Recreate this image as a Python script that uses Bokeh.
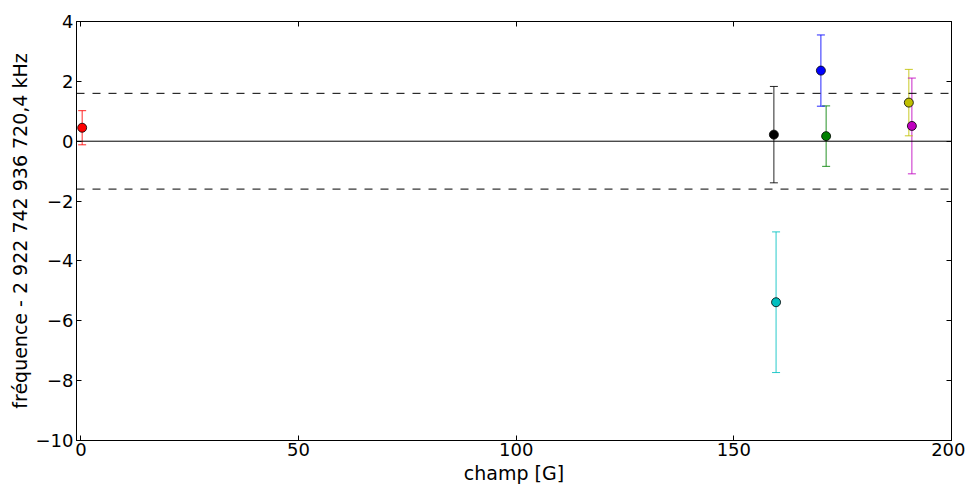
from bokeh.plotting import figure
from bokeh.models import ColumnDataSource, Range1d, LinearAxis, FixedTicker, Span, CustomLabelingPolicy
from bokeh.embed import file_html
from bokeh.resources import INLINE

# ---- data ----
champ = [0.3, 159.2, 159.7, 170.0, 171.2, 190.2, 190.9]
freq = [0.45, 0.22, -5.38, 2.36, 0.17, 1.29, 0.51]
err = [0.57, 1.61, 2.35, 1.19, 1.01, 1.11, 1.60]
colors = ["#ff0000", "#000000", "#00bfbf", "#0000ff", "#008000", "#bfbf00", "#bf00bf"]
seuil = 1.6
x_ticks = [0, 50, 100, 150, 200]
y_ticks = [-10, -8, -6, -4, -2, 0, 2, 4]
y_tick_labels = ["\u221210", "\u22128", "\u22126", "\u22124", "\u22122", "0", "2", "4"]
x_label = "champ [G]"
y_label = "fréquence - 2 922 742 936 720,4 kHz"

lower = [f - e for f, e in zip(freq, err)]
upper = [f + e for f, e in zip(freq, err)]
src = ColumnDataSource(dict(x=champ, y=freq, lo=lower, up=upper, c=colors))

FONT = "DejaVu Sans"

p = figure(width=965, height=488, x_range=Range1d(-1, 200), y_range=Range1d(-10, 4),
           output_backend="svg", toolbar_location=None,
           min_border_left=76, min_border_right=14, min_border_top=21, min_border_bottom=48)
p.xgrid.visible = False
p.ygrid.visible = False
p.outline_line_color = "black"
p.outline_line_alpha = 1.0
p.outline_line_width = 1
p.background_fill_color = "white"
p.border_fill_color = "white"

def style_axis(ax, ticks):
    ax.ticker = FixedTicker(ticks=ticks)
    ax.major_tick_in = 5
    ax.major_tick_out = 0
    ax.minor_tick_in = 0
    ax.minor_tick_out = 0
    ax.axis_line_color = "black"
    ax.major_tick_line_color = "black"
    ax.major_label_text_font = FONT
    ax.major_label_text_font_size = "18px"
    ax.major_label_text_color = "black"
    ax.axis_label_text_font = FONT
    ax.axis_label_text_font_size = "19px"
    ax.axis_label_text_font_style = "normal"
    ax.axis_label_text_color = "black"

xa = p.xaxis[0]
style_axis(xa, x_ticks)
xa.axis_label = x_label
xa.major_label_standoff = 2
xa.axis_label_standoff = 3

ya = p.yaxis[0]
style_axis(ya, y_ticks)
ya.axis_label = y_label
ya.major_label_overrides = dict(zip(y_ticks, y_tick_labels))
ya.major_label_standoff = 3
ya.axis_label_standoff = 2

no_labels = CustomLabelingPolicy(code="return new Set()")
for loc, ticks in (("right", y_ticks), ("above", x_ticks)):
    ax = LinearAxis()
    style_axis(ax, ticks)
    ax.major_label_text_font_size = "0px"
    ax.major_label_standoff = 0
    ax.major_label_policy = no_labels
    p.add_layout(ax, loc)

# reference lines
p.add_layout(Span(location=0, dimension="width", line_color="black", line_width=1))
p.add_layout(Span(location=seuil, dimension="width", line_color="black", line_width=1, line_dash="8 8"))
p.add_layout(Span(location=-seuil, dimension="width", line_color="black", line_width=1, line_dash="8 8"))

# error bars
p.segment(x0="x", y0="lo", x1="x", y1="up", line_color="c", line_width=1, line_alpha=0.85, source=src)
p.scatter(x="x", y="up", marker="dash", size=8, line_color="c", line_width=1, line_alpha=0.85, source=src)
p.scatter(x="x", y="lo", marker="dash", size=8, line_color="c", line_width=1, line_alpha=0.85, source=src)

# points
p.scatter(x="x", y="y", marker="circle", size=9, fill_color="c", line_color="black", line_width=0.8, source=src)

open("out.html", "w").write(file_html(p, INLINE))
